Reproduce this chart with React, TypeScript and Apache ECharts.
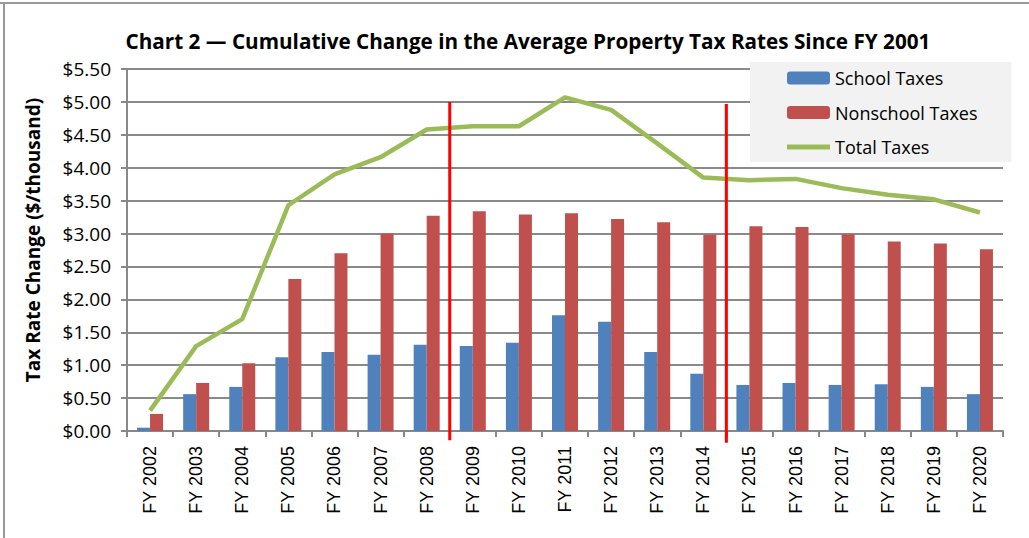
import React, { useEffect, useRef } from "react";
import * as echarts from "echarts";

const categories = [
  "FY 2002", "FY 2003", "FY 2004", "FY 2005", "FY 2006", "FY 2007", "FY 2008",
  "FY 2009", "FY 2010", "FY 2011", "FY 2012", "FY 2013", "FY 2014", "FY 2015",
  "FY 2016", "FY 2017", "FY 2018", "FY 2019", "FY 2020",
];
const schoolTaxes = [0.05, 0.56, 0.67, 1.12, 1.2, 1.16, 1.31, 1.29, 1.34, 1.76, 1.66, 1.2, 0.87, 0.7, 0.73, 0.7, 0.71, 0.67, 0.56];
const nonschoolTaxes = [0.26, 0.73, 1.03, 2.31, 2.7, 3.0, 3.27, 3.34, 3.29, 3.31, 3.22, 3.17, 2.98, 3.11, 3.1, 2.99, 2.88, 2.85, 2.76];
const totalTaxes = [0.31, 1.29, 1.7, 3.43, 3.9, 4.16, 4.58, 4.63, 4.63, 5.07, 4.88, 4.37, 3.85, 3.81, 3.83, 3.69, 3.59, 3.52, 3.32];
// period dividers: category boundary index, top value, bottom value
const dividerPositions = [7, 13];
const dividerTops = [5.0, 4.97];
const dividerBottoms = [-0.14, -0.18];
const yTicks = { min: 0, max: 5.5, interval: 0.5 };

export default function App() {
  const ref = useRef<HTMLDivElement>(null);
  useEffect(() => {
    document.body.style.margin = "0";
    const chart = echarts.init(ref.current!, null, { renderer: "svg" });
    const dividerSeries = dividerPositions.map((x, i) => ({
      type: "line",
      name: "divider" + i,
      xAxisIndex: 1,
      data: [
        [x, dividerTops[i]],
        [x, dividerBottoms[i]],
      ],
      symbol: "none",
      clip: false,
      lineStyle: { color: "#ff0000", width: 3 },
      z: 5,
      silent: true,
    }));
    chart.setOption({
      animation: false,
      backgroundColor: "#ffffff",
      title: {
        text: "Chart 2 \u2014 Cumulative Change in the Average Property Tax Rates Since FY 2001",
        left: 523,
        textAlign: "center",
        top: 25,
        textStyle: { fontFamily: "Open Sans", fontWeight: "bold", fontSize: 20.7, color: "#000" },
      },
      legend: {
        orient: "vertical",
        left: 750,
        top: 62,
        data: [
          { name: "School Taxes" },
          { name: "Nonschool Taxes" },
          { name: "Total Taxes", icon: "path://M0,0 H43 V5 H0 Z" },
        ],
        backgroundColor: "#f2f2f2",
        padding: [7, 34, 6, 37],
        itemGap: 16.5,
        itemWidth: 43,
        itemHeight: 13,
        itemTextGap: 5,
        textStyle: { fontFamily: "Open Sans", fontSize: 18, color: "#000" },
      },
      grid: { left: 127, right: 26, top: 69, bottom: 107, containLabel: false },
      xAxis: [
        {
          type: "category",
          data: categories,
          axisLine: { lineStyle: { color: "#888", width: 2 } },
          axisTick: { show: true, length: 6, lineStyle: { color: "#888", width: 2 } },
          axisLabel: {
            rotate: 90,
            fontFamily: "Liberation Sans",
            fontSize: 18,
            color: "#000",
            margin: 15,
          },
        },
        {
          type: "value",
          min: 0,
          max: categories.length,
          show: false,
        },
      ],
      yAxis: {
        type: "value",
        min: yTicks.min,
        max: yTicks.max,
        interval: yTicks.interval,
        axisLine: { show: true, lineStyle: { color: "#888", width: 2 } },
        axisTick: { show: true, length: 6, lineStyle: { color: "#888", width: 2 } },
        splitLine: { lineStyle: { color: "#8a8a8a", width: 2 } },
        axisLabel: {
          formatter: (v: number) => "$" + v.toFixed(2),
          fontFamily: "Open Sans",
          fontSize: 19,
          color: "#000",
          margin: 16,
        },
      },
      series: [
        {
          name: "School Taxes",
          type: "bar",
          data: schoolTaxes,
          barWidth: 13,
          barGap: "0%",
          itemStyle: { color: "#4f81bd" },
        },
        {
          name: "Nonschool Taxes",
          type: "bar",
          data: nonschoolTaxes,
          barWidth: 13,
          barGap: "0%",
          itemStyle: { color: "#c0504d" },
        },
        {
          name: "Total Taxes",
          type: "line",
          data: totalTaxes,
          symbol: "none",
          lineStyle: { color: "#9bbb59", width: 4.5 },
          itemStyle: { color: "#9bbb59" },
          z: 4,
        },
        ...dividerSeries,
      ],
      graphic: [
        { type: "line", shape: { x1: 0, y1: 3, x2: 1029, y2: 3 }, style: { stroke: "#999", lineWidth: 2 } },
        { type: "line", shape: { x1: 4, y1: 3, x2: 4, y2: 538 }, style: { stroke: "#999", lineWidth: 2 } },
        {
          type: "text",
          x: 33,
          y: 240,
          rotation: Math.PI / 2,
          style: {
            text: "Tax Rate Change ($/thousand)",
            fontFamily: "Open Sans",
            fontWeight: "bold",
            fontSize: 19,
            fill: "#000",
            align: "center",
            verticalAlign: "middle",
          },
        },
      ],
    });
    return () => chart.dispose();
  }, []);
  return <div ref={ref} style={{ position: "absolute", left: 0, top: 0, width: 1029, height: 538 }} />;
}
